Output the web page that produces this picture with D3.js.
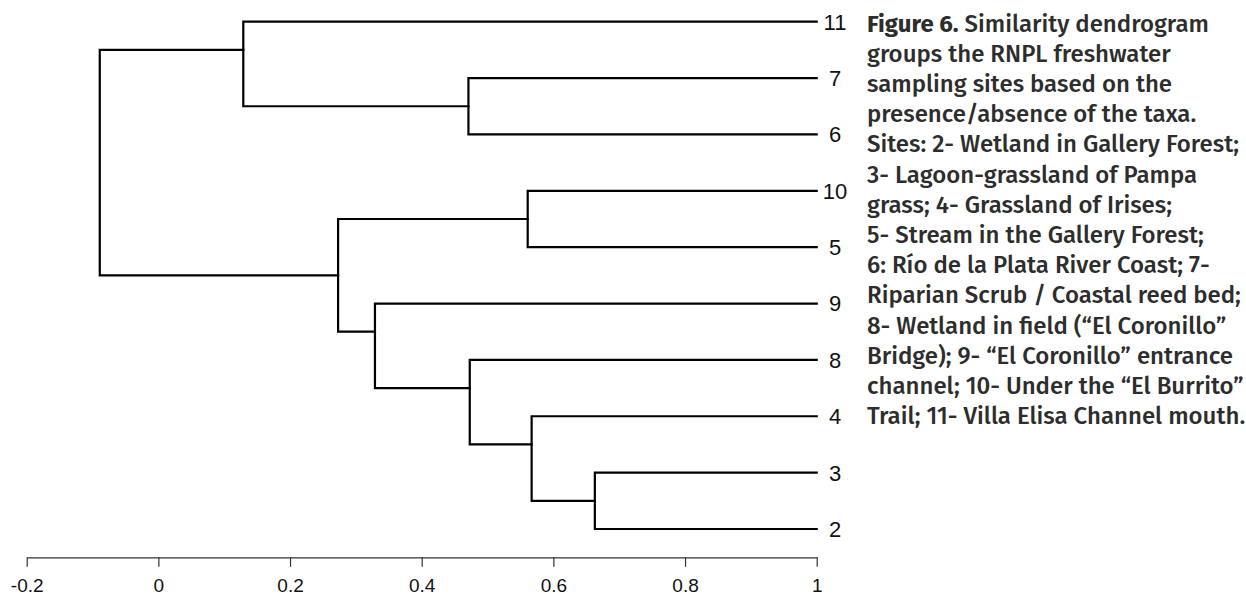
<!DOCTYPE html>
<html>
<head>
<meta charset="utf-8">
<script src="https://cdn.jsdelivr.net/npm/d3@7"></script>
<style>
  body { margin: 0; background: #fff; }
  svg { display: block; }
</style>
</head>
<body>
<div id="chart"></div>
<script>
// leaves from top to bottom
var leafNames = ["11", "7", "6", "10", "5", "9", "8", "4", "3", "2"];
var leafHeight = 1;

// merges: children (leaf name or node id), merge height, node position on leaf index scale
var nodeIds = ["n1", "n2", "n3", "n4", "n5", "n6", "n7", "n8", "root"];
var nodeLeft = ["3", "4", "8", "9", "10", "n5", "7", "11", "n8"];
var nodeRight = ["2", "n1", "n2", "n3", "5", "n4", "6", "n7", "n6"];
var nodeHeights = [0.663, 0.567, 0.473, 0.329, 0.561, 0.273, 0.471, 0.129, -0.089];
var nodePos = [9.5, 8.5, 7.5, 6.5, 4.5, 5.5, 2.5, 1.5, 3.5];

var tickValues = [-0.2, 0, 0.2, 0.4, 0.6, 0.8, 1];

var captionBold = "Figure 6.";
var captionLines = [
  " Similarity dendrogram",
  "groups the RNPL freshwater",
  "sampling sites based on the",
  "presence/absence of the taxa.",
  "Sites: 2- Wetland in Gallery Forest;",
  "3- Lagoon-grassland of Pampa",
  "grass; 4- Grassland of Irises;",
  "5- Stream in the Gallery Forest;",
  "6: Río de la Plata River Coast; 7-",
  "Riparian Scrub / Coastal reed bed;",
  "8- Wetland in field (“El Coronillo”",
  "Bridge); 9- “El Coronillo” entrance",
  "channel; 10- Under the “El Burrito”",
  "Trail; 11- Villa Elisa Channel mouth."
];

var svgWidth = 1246;
var svgHeight = 594;

var svg = d3.select("#chart")
  .append("svg")
  .attr("width", svgWidth)
  .attr("height", svgHeight);

var x = d3.scaleLinear().domain([-0.2, 1]).range([26.7, 816.7]);
var y = d3.scaleLinear().domain([1, leafNames.length]).range([21.7, 529]);

// lookup of heights and positions for leaves and nodes
var info = {};
leafNames.forEach(function(name, i) {
  info[name] = { h: leafHeight, pos: i + 1 };
});
nodeIds.forEach(function(id, i) {
  info[id] = { h: nodeHeights[i], pos: nodePos[i] };
});

var tree = svg.append("g")
  .attr("fill", "none")
  .attr("stroke", "#000")
  .attr("stroke-width", 2.2)
  .attr("stroke-linecap", "square");

nodeIds.forEach(function(id, i) {
  var l = info[nodeLeft[i]];
  var r = info[nodeRight[i]];
  var h = nodeHeights[i];
  var path = d3.path();
  path.moveTo(x(l.h), y(l.pos));
  path.lineTo(x(h), y(l.pos));
  path.lineTo(x(h), y(r.pos));
  path.lineTo(x(r.h), y(r.pos));
  tree.append("path").attr("d", path.toString());
});

// leaf labels
svg.append("g")
  .selectAll("text")
  .data(leafNames)
  .enter()
  .append("text")
  .attr("x", 835)
  .attr("y", (d, i) => y(i + 1))
  .attr("dy", "0.36em")
  .attr("text-anchor", "middle")
  .style("font-family", "'Liberation Sans', Arial, sans-serif")
  .style("font-size", "22px")
  .attr("fill", "#111")
  .text(d => d);

// bottom axis
var axis = svg.append("g")
  .attr("transform", "translate(0, 557.3)")
  .call(d3.axisBottom(x)
    .tickValues(tickValues)
    .tickSize(9.5)
    .tickSizeOuter(0)
    .tickPadding(11.5)
    .tickFormat(d => String(+d.toFixed(1))));

axis.select(".domain").attr("stroke", "#333").attr("stroke-width", 1.2);
axis.selectAll(".tick line").attr("stroke", "#333").attr("stroke-width", 1.2);
axis.selectAll(".tick text")
  .style("font-family", "'Liberation Sans', Arial, sans-serif")
  .style("font-size", "19px")
  .attr("fill", "#111");

// caption
var caption = svg.append("g")
  .style("font-family", "'Fira Sans', 'Open Sans', sans-serif")
  .style("font-size", "24px")
  .style("font-weight", 500)
  .attr("fill", "#2d2d2d");

captionLines.forEach(function(line, i) {
  var t = caption.append("text")
    .attr("x", 867)
    .attr("y", 31.5 + i * 30.2);
  if (i === 0) {
    t.append("tspan").style("font-weight", 700).text(captionBold);
  }
  t.append("tspan").text(line);
});
</script>
</body>
</html>
